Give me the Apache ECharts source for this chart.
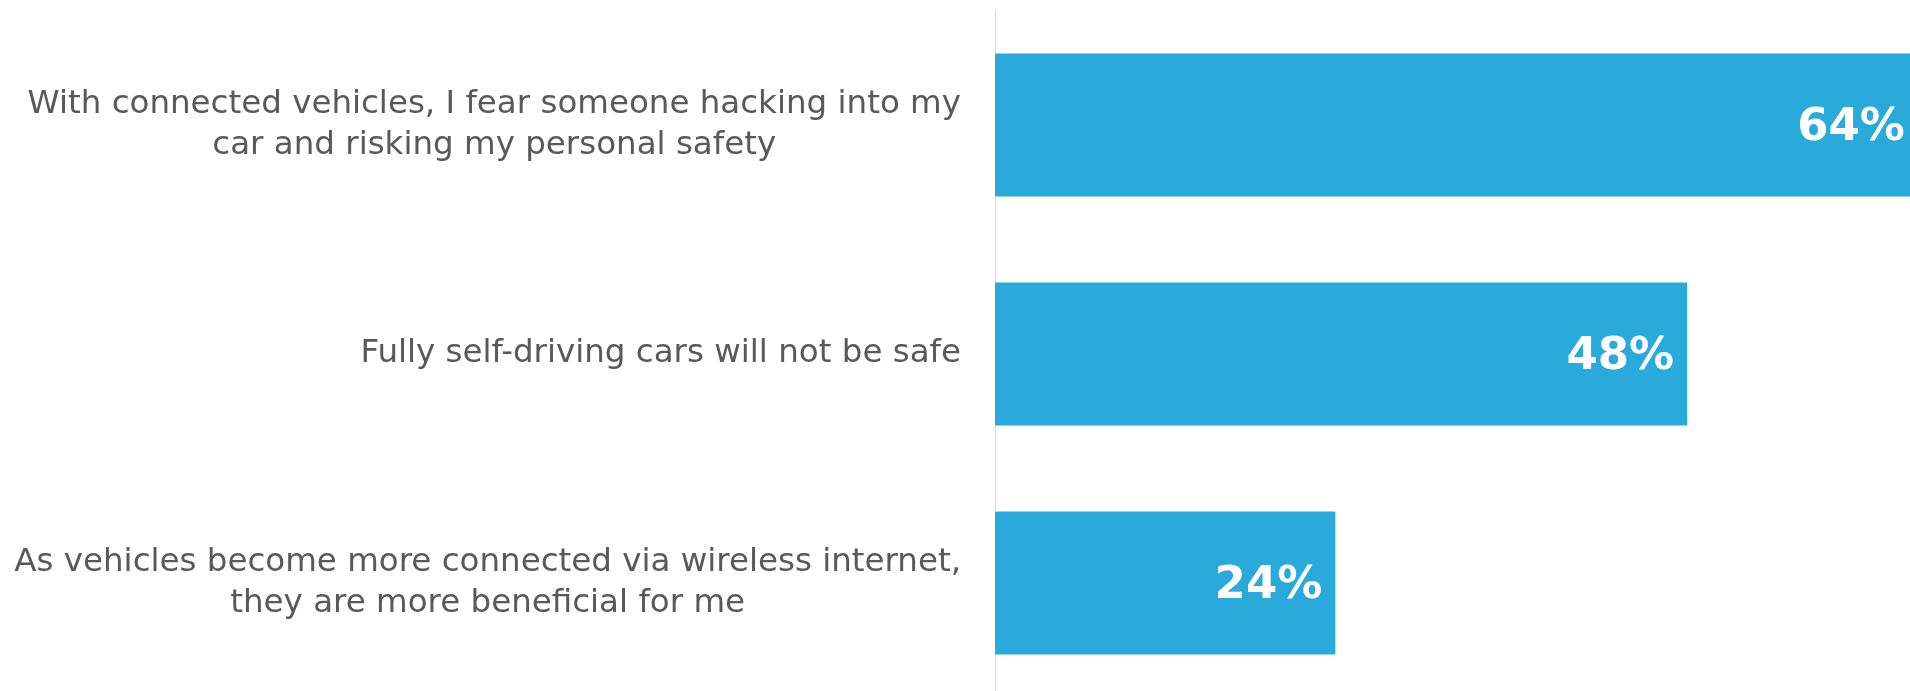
<!DOCTYPE html>
<html>
<head>
<meta charset="utf-8">
<style>
  html, body { margin: 0; padding: 0; background: #fff; }
  #chart { width: 1910px; height: 691px; }
</style>
<script src="https://cdn.jsdelivr.net/npm/echarts@6/dist/echarts.min.js"></script>
</head>
<body>
<div id="chart"></div>
<script>
// statements, top to bottom
const categories = [
  'With connected vehicles, I fear someone hacking into my\ncar and risking my personal safety',
  'Fully self-driving cars will not be safe',
  'As vehicles become more connected via wireless internet,\nthey are more beneficial for me'
]
// share agreeing (%)
const values = [64, 48, 23.6]

const chart = echarts.init(document.getElementById('chart'))

const option = {
  animation: false,
  grid: {
    left: 995,
    right: 0,
    top: 10.5,
    height: 687,
    outerBoundsMode: 'none'
  },
  xAxis: {
    type: 'value',
    min: 0,
    max: 63.45,
    show: false
  },
  yAxis: {
    type: 'category',
    data: categories,
    inverse: true,
    axisLine: { show: true, lineStyle: { color: '#d9d9d9', width: 1 } },
    axisTick: { show: false },
    axisLabel: {
      margin: 34,
      formatter: (val) => val.split('\n').map(s => '{c|' + s + '}').join('\n'),
      rich: {
        c: {
          align: 'center',
          color: '#595959',
          fontFamily: 'DejaVu Sans',
          fontSize: 32.5,
          lineHeight: 41
        }
      }
    }
  },
  series: [
    {
      type: 'bar',
      data: values,
      barWidth: 143,
      clip: false,
      itemStyle: { color: '#29aadb' },
      label: {
        show: true,
        position: 'insideRight',
        distance: 13,
        offset: [0, 3],
        color: '#fff',
        fontFamily: 'DejaVu Sans',
        fontWeight: 'bold',
        fontSize: 45,
        formatter: (p) => Math.round(p.value) + '%'
      }
    }
  ]
}

chart.setOption(option)
</script>
</body>
</html>
